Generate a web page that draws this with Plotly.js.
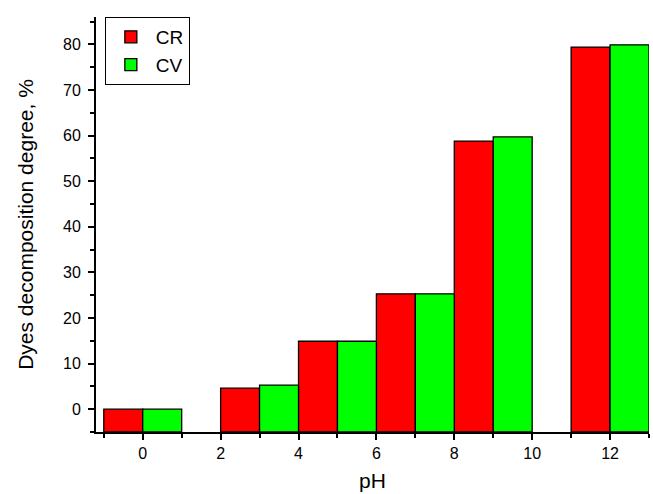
<!DOCTYPE html>
<html>
<head>
<meta charset="utf-8">
<script src="https://cdn.plot.ly/plotly-3.0.1.min.js"></script>
<style>html,body{margin:0;padding:0;background:#fff;}#chart{width:653px;height:494px;}</style>
</head>
<body>
<div id="chart"></div>
<script>
var pH = [0, 3, 5, 7, 9, 12];
var CR = [0, 4.6, 14.9, 25.3, 58.8, 79.4];
var CV = [0, 5.3, 14.9, 25.3, 59.7, 79.9];
var seriesNames = ["CR", "CV"];
var xTicks = [0, 2, 4, 6, 8, 10, 12];
var yTicks = [0, 10, 20, 30, 40, 50, 60, 70, 80];

var baseVal = -5;
function heights(arr){ return arr.map(function(v){ return v - baseVal; }); }

var font = "Liberation Sans, Arial, sans-serif";
var traces = [
  {type:"bar", name:seriesNames[0], x:pH, y:heights(CR), base:baseVal, customdata:CR,
   hovertemplate:"pH %{x}: %{customdata}<extra>CR</extra>",
   marker:{color:"#ff0000", line:{color:"#000", width:1.3}}},
  {type:"bar", name:seriesNames[1], x:pH, y:heights(CV), base:baseVal, customdata:CV,
   hovertemplate:"pH %{x}: %{customdata}<extra>CV</extra>",
   marker:{color:"#00ff00", line:{color:"#000", width:1.3}}}
];

var axisCommon = {
  showgrid:false, zeroline:false, showline:true, linecolor:"#000", linewidth:2,
  ticks:"outside", ticklen:6, tickwidth:2, tickcolor:"#000",
  tickfont:{family:font, size:16, color:"#000"},
  mirror:false
};

var layout = {
  width:653, height:494,
  margin:{l:96, r:4, t:17, b:62},
  paper_bgcolor:"#fff", plot_bgcolor:"#fff",
  barmode:"group", bargap:0, bargroupgap:0,
  font:{family:font, color:"#000"},
  xaxis: Object.assign({}, axisCommon, {
    range:[-1.2, 13.0], tickmode:"array", tickvals:xTicks, ticktext:xTicks.map(String),
    ticklabelstandoff:0,
    minor:{dtick:1, tick0:1, ticks:"outside", ticklen:4, tickwidth:2, tickcolor:"#000"},
    title:{text:"pH", font:{family:font, size:21, color:"#000"}, standoff:12}
  }),
  yaxis: Object.assign({}, axisCommon, {
    range:[-5, 86], tickmode:"array", tickvals:yTicks, ticktext:yTicks.map(String),
    ticklabelstandoff:4,
    minor:{dtick:5, tick0:5, ticks:"outside", ticklen:4, tickwidth:2, tickcolor:"#000"},
    title:{text:"Dyes decomposition degree, %", font:{family:font, size:21, color:"#000"}, standoff:24}
  }),
  showlegend:true,
  legend:{x:0.016, y:1.0, xanchor:"left", yanchor:"top", bgcolor:"#fff",
    bordercolor:"#000", borderwidth:1, font:{family:font, size:19, color:"#000"},
    tracegroupgap:0, itemwidth:40}
};

Plotly.newPlot("chart", traces, layout, {displayModeBar:false, staticPlot:true});
</script>
</body>
</html>
